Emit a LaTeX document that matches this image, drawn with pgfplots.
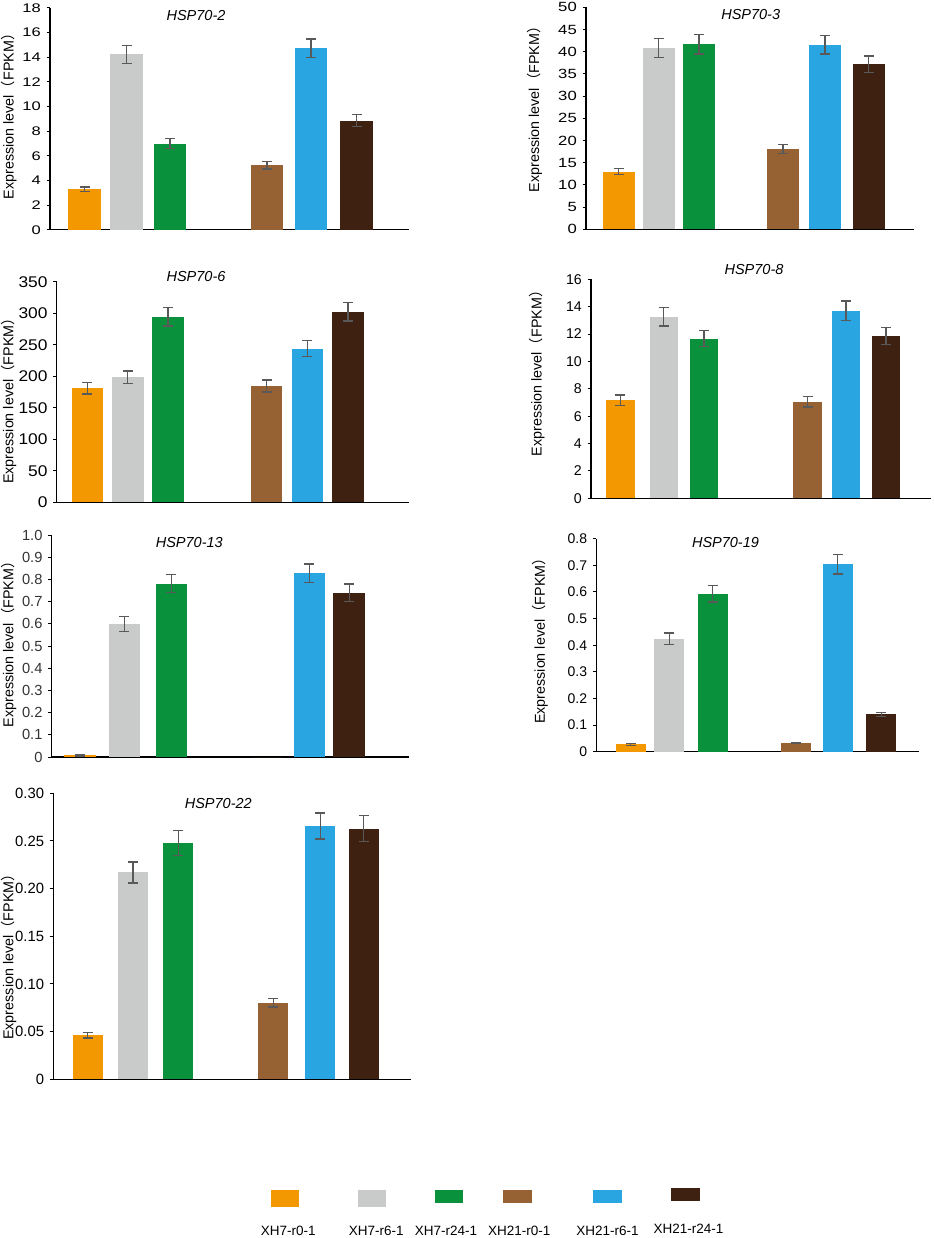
\documentclass[border=0pt]{standalone}
\usepackage{fontspec}
\setmainfont{Liberation Sans}
\newfontfamily\cjk{Noto Sans CJK SC}
\newfontfamily\wideA[FakeStretch=1.32]{Liberation Sans}
\newfontfamily\wideB[FakeStretch=1.25]{Liberation Sans}
\newfontfamily\wideC[FakeStretch=1.12]{Liberation Sans}
\usepackage{pgfplots}
\pgfplotsset{compat=1.18}
\definecolor{cOr}{RGB}{243,152,0}
\definecolor{cGr}{RGB}{201,202,202}
\definecolor{cGn}{RGB}{9,145,60}
\definecolor{cBr}{RGB}{150,98,52}
\definecolor{cBl}{RGB}{41,166,225}
\definecolor{cDk}{RGB}{62,33,16}
\definecolor{cErr}{RGB}{89,89,89}
\def\s{0.6pt}
\newcommand{\ylab}{Expression level{\cjk （}FPKM{\cjk ）}}
\pgfplotsset{panel/.style={
  scale only axis, anchor=south west, ybar, /pgf/bar shift=0pt,
  xmin=0, ymin=0, axis x line*=bottom, axis y line*=left,
  axis line style={-, line width=0.8pt, black},
  xtick=\empty, tick align=outside, major tick length=2pt,
  ytick style={line width=0.6pt, black},
  /pgf/number format/assume math mode=true,
  clip=false,
  every axis plot/.append style={draw=none,
    error bars/y dir=both, error bars/y explicit,
    error bars/error bar style={line width=0.8pt, draw=cErr},
    error bars/error mark options={rotate=90, mark size=3pt, line width=0.8pt, draw=cErr}},
}}
\begin{document}
\begin{tikzpicture}
\useasboundingbox (0,0) rectangle ({934*\s},{-1238*\s});

% ---------- HSP70-2
\begin{axis}[panel, at={({50*\s},{-229.7*\s})}, width={359*\s}, height={221.7*\s},
  xmax=359, ymax=18, bar width=32.5,
  ytick={0,2,4,6,8,10,12,14,16,18}, yticklabels={0,2,4,6,8,10,12,14,16,18},
  yticklabel style={font=\wideA\fontsize{7.5}{8}\selectfont}]
\addplot[fill=cOr] coordinates {(34.5,3.28) +- (0,0.19)};
\addplot[fill=cGr] coordinates {(76.5,14.24) +- (0,0.73)};
\addplot[fill=cGn] coordinates {(120,6.98) +- (0,0.40)};
\addplot[fill=cBr] coordinates {(217,5.22) +- (0,0.30)};
\addplot[fill=cBl] coordinates {(261,14.73) +- (0,0.75)};
\addplot[fill=cDk] coordinates {(306.5,8.85) +- (0,0.48)};
\end{axis}

% ---------- HSP70-3
\begin{axis}[panel, at={({586*\s},{-229.3*\s})}, width={327.7*\s}, height={222*\s},
  xmax=327.7, ymax=50, bar width=32,
  ytick={0,5,10,15,20,25,30,35,40,45,50}, yticklabels={0,5,10,15,20,25,30,35,40,45,50},
  yticklabel style={font=\wideB\fontsize{8}{8}\selectfont}]
\addplot[fill=cOr] coordinates {(32.7,12.99) +- (0,0.67)};
\addplot[fill=cGr] coordinates {(72.8,40.84) +- (0,2.1)};
\addplot[fill=cGn] coordinates {(113,41.67) +- (0,2.2)};
\addplot[fill=cBr] coordinates {(197,18.09) +- (0,0.98)};
\addplot[fill=cBl] coordinates {(239,41.59) +- (0,2.1)};
\addplot[fill=cDk] coordinates {(282.8,37.16) +- (0,1.9)};
\end{axis}

% ---------- HSP70-6
\begin{axis}[panel, at={({56.7*\s},{-502.3*\s})}, width={352.3*\s}, height={220.6*\s},
  xmax=352.3, ymax=350, bar width=31.5,
  ytick={0,50,100,150,200,250,300,350}, yticklabels={0,50,100,150,200,250,300,350},
  yticklabel style={font=\wideC\fontsize{9.3}{10}\selectfont}]
\addplot[fill=cOr] coordinates {(30.6,180.8) +- (0,9)};
\addplot[fill=cGr] coordinates {(71.1,198.3) +- (0,10)};
\addplot[fill=cGn] coordinates {(111.3,294.5) +- (0,15)};
\addplot[fill=cBr] coordinates {(209.8,184.5) +- (0,9.5)};
\addplot[fill=cBl] coordinates {(250.6,243.8) +- (0,12.5)};
\addplot[fill=cDk] coordinates {(291.3,302.5) +- (0,15)};
\end{axis}

% ---------- HSP70-8
\begin{axis}[panel, at={({591*\s},{-498.3*\s})}, width={340*\s}, height={219*\s},
  xmax=340, ymax=16, bar width=28.5,
  ytick={0,2,4,6,8,10,12,14,16}, yticklabels={0,2,4,6,8,10,12,14,16},
  yticklabel style={font=\fontsize{8.5}{9}\selectfont}]
\addplot[fill=cOr] coordinates {(29.3,7.16) +- (0,0.38)};
\addplot[fill=cGr] coordinates {(72.8,13.27) +- (0,0.68)};
\addplot[fill=cGn] coordinates {(113,11.67) +- (0,0.6)};
\addplot[fill=cBr] coordinates {(216.5,7.04) +- (0,0.38)};
\addplot[fill=cBl] coordinates {(255,13.71) +- (0,0.7)};
\addplot[fill=cDk] coordinates {(295,11.86) +- (0,0.6)};
\end{axis}

% ---------- HSP70-13
\begin{axis}[panel, at={({51.7*\s},{-757*\s})}, width={357.6*\s}, height={222*\s},
  xmax=357.6, ymax=1.0, bar width=31.5,
  ytick={0,0.1,0.2,0.3,0.4,0.5,0.6,0.7,0.8,0.9,1.0}, yticklabels={0,0.1,0.2,0.3,0.4,0.5,0.6,0.7,0.8,0.9,1.0},
  yticklabel style={font=\fontsize{8.8}{9}\selectfont, text=black!80}]
\addplot[fill=cOr] coordinates {(28.3,0.008) +- (0,0.003)};
\addplot[fill=cGr] coordinates {(72.6,0.599) +- (0,0.033)};
\addplot[fill=cGn] coordinates {(119.6,0.781) +- (0,0.04)};
\addplot[fill=cBr, error bars/y dir=none] coordinates {(215.6,0)};
\addplot[fill=cBl] coordinates {(257.6,0.827) +- (0,0.042)};
\addplot[fill=cDk] coordinates {(297.5,0.740) +- (0,0.04)};
\end{axis}

% ---------- HSP70-19
\begin{axis}[panel, at={({596.3*\s},{-751.7*\s})}, width={323*\s}, height={213*\s},
  xmax=323, ymax=0.8, bar width=30,
  ytick={0,0.1,0.2,0.3,0.4,0.5,0.6,0.7,0.8}, yticklabels={0,0.1,0.2,0.3,0.4,0.5,0.6,0.7,0.8},
  yticklabel style={font=\fontsize{8.4}{9}\selectfont}]
\addplot[fill=cOr] coordinates {(34.5,0.0275) +- (0,0.003)};
\addplot[fill=cGr] coordinates {(73,0.424) +- (0,0.022)};
\addplot[fill=cGn] coordinates {(116.4,0.593) +- (0,0.031)};
\addplot[fill=cBr] coordinates {(199.7,0.0326) +- (0,0.003)};
\addplot[fill=cBl] coordinates {(241.5,0.704) +- (0,0.036)};
\addplot[fill=cDk] coordinates {(285,0.140) +- (0,0.008)};
\end{axis}

% ---------- HSP70-22
\begin{axis}[panel, at={({53.3*\s},{-1079.3*\s})}, width={357.4*\s}, height={286*\s},
  xmax=357.4, ymax=0.30, bar width=30,
  ytick={0,0.05,0.10,0.15,0.20,0.25,0.30}, yticklabels={0,0.05,0.10,0.15,0.20,0.25,0.30},
  yticklabel style={font=\fontsize{8.9}{9}\selectfont}]
\addplot[fill=cOr] coordinates {(34.2,0.0462) +- (0,0.003)};
\addplot[fill=cGr] coordinates {(79.7,0.217) +- (0,0.011)};
\addplot[fill=cGn] coordinates {(125,0.248) +- (0,0.013)};
\addplot[fill=cBr] coordinates {(220,0.0804) +- (0,0.0045)};
\addplot[fill=cBl] coordinates {(267,0.2657) +- (0,0.0136)};
\addplot[fill=cDk] coordinates {(310.5,0.263) +- (0,0.0136)};
\end{axis}

% ---------- titles
\begin{scope}[every node/.style={font=\fontsize{8.7}{10}\selectfont\itshape}]
\node at ({196*\s},{-15.7*\s}) {HSP70-2};
\node at ({750.7*\s},{-15*\s}) {HSP70-3};
\node at ({196*\s},{-276.7*\s}) {HSP70-6};
\node at ({754*\s},{-270*\s}) {HSP70-8};
\node at ({189.3*\s},{-542.7*\s}) {HSP70-13};
\node at ({725.5*\s},{-542.7*\s}) {HSP70-19};
\node at ({218.3*\s},{-803.3*\s}) {HSP70-22};
\end{scope}

% ---------- y labels
\begin{scope}[every node/.style={font=\fontsize{8.6}{10}\selectfont, rotate=90, inner sep=0pt}]
\node at ({9*\s},{-113*\s}) {\ylab};
\node at ({534.5*\s},{-105.8*\s}) {\ylab};
\node at ({8.8*\s},{-397.5*\s}) {\ylab};
\node at ({537*\s},{-370*\s}) {\ylab};
\node at ({8.8*\s},{-640.8*\s}) {\ylab};
\node at ({540.3*\s},{-637.5*\s}) {\ylab};
\node at ({8.8*\s},{-953.3*\s}) {\ylab};
\end{scope}

% ---------- legend
\fill[cOr] ({270.7*\s},{-1190*\s}) rectangle ({299*\s},{-1206.7*\s});
\fill[cGr] ({357.7*\s},{-1190*\s}) rectangle ({386*\s},{-1206.7*\s});
\fill[cGn] ({434.7*\s},{-1190*\s}) rectangle ({463.3*\s},{-1202.7*\s});
\fill[cBr] ({503.3*\s},{-1190*\s}) rectangle ({532*\s},{-1202.7*\s});
\fill[cBl] ({593.3*\s},{-1190*\s}) rectangle ({621.7*\s},{-1202.7*\s});
\fill[cDk] ({671*\s},{-1188.3*\s}) rectangle ({700*\s},{-1201*\s});
\begin{scope}[every node/.style={font=\fontsize{8.1}{10}\selectfont}]
\node at ({288.3*\s},{-1230.8*\s}) {XH7-r0-1};
\node at ({376.2*\s},{-1230.8*\s}) {XH7-r6-1};
\node at ({446*\s},{-1230.8*\s}) {XH7-r24-1};
\node at ({519.3*\s},{-1230.8*\s}) {XH21-r0-1};
\node at ({607.5*\s},{-1230.8*\s}) {XH21-r6-1};
\node at ({688.5*\s},{-1229*\s}) {XH21-r24-1};
\end{scope}
\end{tikzpicture}
\end{document}
